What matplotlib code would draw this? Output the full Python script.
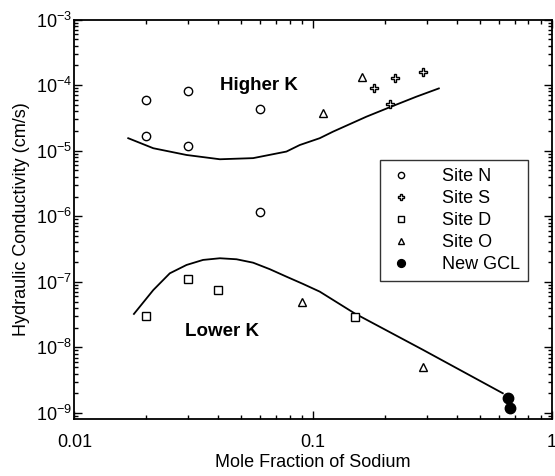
import numpy as np
import matplotlib
matplotlib.use('Agg')
import matplotlib.pyplot as plt
from matplotlib.ticker import LogLocator, FixedLocator, FixedFormatter, NullFormatter

# Datos
site_n_x = [0.02, 0.02, 0.03, 0.03, 0.06, 0.06]
site_n_y = [5.9e-5, 1.67e-5, 8.2e-5, 1.17e-5, 4.3e-5, 1.16e-6]

site_s_x = [0.18, 0.22, 0.29, 0.21]
site_s_y = [9.1e-5, 1.3e-4, 1.6e-4, 5.1e-5]

site_d_x = [0.02, 0.03, 0.04, 0.15]
site_d_y = [3.0e-8, 1.1e-7, 7.5e-8, 2.9e-8]

site_o_x = [0.16, 0.11, 0.09, 0.29]
site_o_y = [1.35e-4, 3.8e-5, 5.0e-8, 5.0e-9]

gcl_x = [0.656, 0.667]
gcl_y = [1.68e-9, 1.18e-9]

# Curva superior (Higher K)
upper_x = [0.0168, 0.0214, 0.0295, 0.0407, 0.0561, 0.0774, 0.088, 0.1067,
           0.1213, 0.1675, 0.213, 0.271, 0.337]
upper_y = [1.55e-5, 1.09e-5, 8.6e-6, 7.4e-6, 7.7e-6, 9.7e-6, 1.22e-5, 1.55e-5,
           1.95e-5, 3.3e-5, 4.7e-5, 6.65e-5, 8.9e-5]

# Curva inferior (Lower K)
lower_x = [0.01775, 0.0214, 0.0251, 0.0295, 0.0346, 0.0407, 0.0478, 0.0561,
           0.0659, 0.0774, 0.0908, 0.1067, 0.1496, 0.289, 0.625]
lower_y = [3.24e-8, 7.5e-8, 1.35e-7, 1.81e-7, 2.16e-7, 2.29e-7, 2.21e-7, 1.96e-7,
           1.56e-7, 1.2e-7, 9.3e-8, 7.1e-8, 3.3e-8, 9.2e-9, 2.0e-9]

x_ticks = [0.01, 0.1, 1]
x_tick_labels = ['0.01', '0.1', '1']

plt.rcParams['font.family'] = ['Liberation Sans', 'DejaVu Sans']
plt.rcParams['mathtext.default'] = 'regular'

fig = plt.figure(figsize=(5.55, 4.76), dpi=100)
ax = fig.add_axes([0.1342, 0.1197, 0.8595, 0.8393])

ax.plot(upper_x, upper_y, color='black', lw=1.3)
ax.plot(lower_x, lower_y, color='black', lw=1.3)

ax.plot(site_n_x, site_n_y, 'o', ms=6, mfc='white', mec='black', mew=1.0, ls='none', label='Site N')
ax.plot(site_s_x, site_s_y, 'P', ms=6, mfc='white', mec='black', mew=1.0, ls='none', label='Site S')
ax.plot(site_d_x, site_d_y, 's', ms=6, mfc='white', mec='black', mew=1.0, ls='none', label='Site D')
ax.plot(site_o_x, site_o_y, '^', ms=5.5, mfc='white', mec='black', mew=1.0, ls='none', label='Site O')
ax.plot(gcl_x, gcl_y, 'o', ms=7.5, mfc='black', mec='black', ls='none', label='New GCL')

ax.set_xscale('log')
ax.set_yscale('log')
ax.set_xlim(0.01, 1)
ax.set_ylim(8.1e-10, 1e-3)

ax.xaxis.set_major_locator(FixedLocator(x_ticks))
ax.xaxis.set_major_formatter(FixedFormatter(x_tick_labels))
ax.xaxis.set_minor_locator(LogLocator(base=10, subs=np.arange(2, 10)))
ax.xaxis.set_minor_formatter(NullFormatter())
ax.yaxis.set_major_locator(LogLocator(base=10, numticks=10))
ax.yaxis.set_minor_locator(LogLocator(base=10, subs=np.arange(2, 10), numticks=10))
ax.yaxis.set_minor_formatter(NullFormatter())

ax.tick_params(which='both', direction='in', top=True, right=True, width=1.0, labelsize=13)
ax.tick_params(which='major', length=6, pad=2)
ax.tick_params(which='minor', length=3)
ax.tick_params(axis='x', which='major', pad=11)
for s in ax.spines.values():
    s.set_linewidth(1.3)

ax.set_xlabel('Mole Fraction of Sodium', fontsize=13, labelpad=2)
ax.set_ylabel('Hydraulic Conductivity (cm/s)', fontsize=13, labelpad=4)

ax.text(0.0596, 9.7e-5, 'Higher K', fontsize=13.5, fontweight='bold', ha='center', va='center')
ax.text(0.0415, 1.74e-8, 'Lower K', fontsize=13.5, fontweight='bold', ha='center', va='center')

leg = ax.legend(loc='upper left', bbox_to_anchor=(380 / 555, 1 - 160 / 476),
                bbox_transform=fig.transFigure, borderaxespad=0, frameon=True,
                fancybox=False, edgecolor='black', fontsize=13, handlelength=1.4,
                handletextpad=1.6, labelspacing=0.28, markerscale=0.75,
                borderpad=0.45)
leg.get_frame().set_linewidth(1.0)

fig.savefig('out.png', dpi=100)
